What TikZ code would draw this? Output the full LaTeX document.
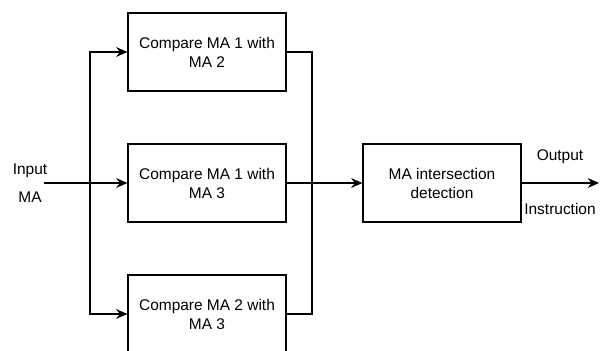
\documentclass[tikz,border=0pt]{standalone}
\usepackage{fontspec}
\setmainfont{Liberation Sans}
\usetikzlibrary{arrows.meta}
\tikzset{
box/.style = {rectangle, draw=black, line width=0.8pt, minimum width=#1,
              minimum height=1.95cm, align=center, inner sep=2pt},
box/.default = 3.95cm % width of the boxes
}
\tikzset{
flow/.style = {-{Stealth[length=8pt,width=7pt]}, line width=0.8pt},
wire/.style = {line width=0.8pt},
lbl/.style = {inner sep=0pt}
}

\begin{document}
\begin{tikzpicture}[font=\fontsize{11}{13.5}\selectfont]
  \clip (0,0) rectangle (15,-8.775);

  % Boxes
    \node[box] (cmpA) at (5.175,-1.3) {Compare MA 1 with\\MA 2};
    \node[box] (cmpB) at (5.175,-4.575) {Compare MA 1 with\\MA 3};
    \node[box] (cmpC) at (5.175,-7.85) {Compare MA 2 with\\MA 3};
    \node[box] (detBox) at (11.05,-4.575) {MA intersection\\detection};

  % Labels
    \node[lbl] (inTxt) at (0.75,-4.275) {Input};
    \node[lbl] (maTxt) at (0.75,-4.925) {MA};
    \node[lbl] (outTxt) at (14,-3.925) {Output};
    \node[lbl] (instTxt) at (14,-5.225) {Instruction};

  % Points
    \coordinate (inStart) at (1.1,-4.575);
    \coordinate (splitMid) at (2.25,-4.575);
    \coordinate (joinMid) at (7.8,-4.575);
    \coordinate (outEnd) at (14.975,-4.575);

  % Lines
    \draw[flow] (inStart) -- (cmpB);
    \draw[flow] (splitMid) |- (cmpA.west);
    \draw[flow] (splitMid) |- (cmpC.west);
    \draw[wire] (cmpA.east) -| (joinMid);
    \draw[wire] (cmpC.east) -| (joinMid);
    \draw[flow] (cmpB) -- (detBox);
    \draw[flow] (detBox) -- (outEnd);
\end{tikzpicture}
\end{document}
